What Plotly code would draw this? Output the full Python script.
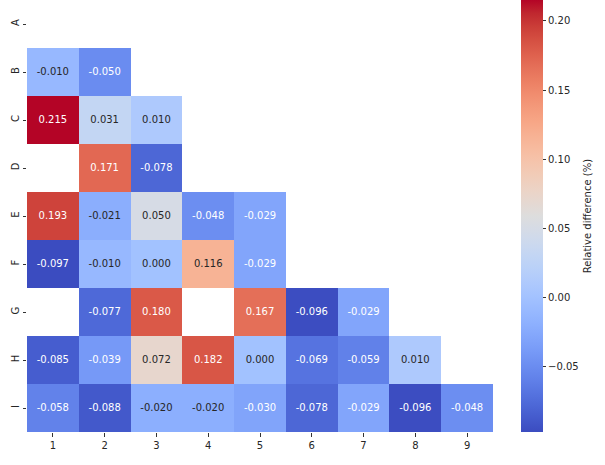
import plotly.graph_objects as go

# Row / column labels of the lower-triangular difference matrix
row_labels = ["A", "B", "C", "D", "E", "F", "G", "H", "I"]
col_labels = ["1", "2", "3", "4", "5", "6", "7", "8", "9"]

# Relative difference values (None = no data)
row_A = [None, None, None, None, None, None, None, None, None]
row_B = [-0.010, -0.050, None, None, None, None, None, None, None]
row_C = [0.215, 0.031, 0.010, None, None, None, None, None, None]
row_D = [None, 0.171, -0.078, None, None, None, None, None, None]
row_E = [0.193, -0.021, 0.050, -0.048, -0.029, None, None, None, None]
row_F = [-0.097, -0.010, 0.000, 0.116, -0.029, None, None, None, None]
row_G = [None, -0.077, 0.180, None, 0.167, -0.096, -0.029, None, None]
row_H = [-0.085, -0.039, 0.072, 0.182, 0.000, -0.069, -0.059, 0.010, None]
row_I = [-0.058, -0.088, -0.020, -0.020, -0.030, -0.078, -0.029, -0.096, -0.048]

z = [row_A, row_B, row_C, row_D, row_E, row_F, row_G, row_H, row_I]

# coolwarm diverging colormap (Moreland), 33 samples
coolwarm_rgb = [
    (59, 76, 192), (68, 90, 204), (77, 104, 215), (87, 117, 225),
    (98, 130, 234), (108, 142, 241), (119, 154, 247), (130, 165, 251),
    (141, 176, 254), (152, 185, 255), (163, 194, 255), (174, 201, 253),
    (184, 208, 249), (194, 213, 244), (204, 217, 238), (213, 219, 230),
    (221, 221, 221), (229, 216, 209), (236, 211, 197), (241, 204, 184),
    (245, 196, 172), (247, 187, 159), (247, 177, 147), (247, 166, 134),
    (244, 154, 123), (241, 141, 111), (236, 127, 99), (229, 112, 89),
    (222, 96, 77), (213, 80, 66), (203, 62, 56), (192, 40, 47), (180, 4, 38),
]
n = len(coolwarm_rgb) - 1
colorscale = [[i / n, "rgb(%d,%d,%d)" % c] for i, c in enumerate(coolwarm_rgb)]

vals = [v for r in z for v in r if v is not None]
zmin, zmax = min(vals), max(vals)


def cmap(frac):
    frac = min(max(frac, 0.0), 1.0) * n
    i = min(int(frac), n - 1)
    t = frac - i
    a, b = coolwarm_rgb[i], coolwarm_rgb[i + 1]
    return [(a[k] + (b[k] - a[k]) * t) / 255 for k in range(3)]


def luminance(rgb):
    lin = [c / 12.92 if c <= 0.03928 else ((c + 0.055) / 1.055) ** 2.4 for c in rgb]
    return 0.2126 * lin[0] + 0.7152 * lin[1] + 0.0722 * lin[2]


# Cell annotations: dark text on light cells, white on dark cells
tx, ty, tt, tc = [], [], [], []
for r, row in zip(row_labels, z):
    for c, v in zip(col_labels, row):
        if v is None:
            continue
        tx.append(c)
        ty.append(r)
        tt.append("%.3f" % v)
        lum = luminance(cmap((v - zmin) / (zmax - zmin)))
        tc.append("#262626" if lum > 0.408 else "white")

fig = go.Figure()
fig.add_trace(go.Heatmap(
    z=z, x=col_labels, y=row_labels,
    colorscale=colorscale, zmin=zmin, zmax=zmax,
    hoverongaps=False,
    colorbar=dict(
        x=1.06, xanchor="left", xpad=0,
        y=0.5, yanchor="middle", len=1.0, lenmode="fraction", ypad=0,
        thickness=22, outlinewidth=0,
        tick0=0, dtick=0.05, tickformat=".2f",
        ticks="outside", ticklen=3.5, tickwidth=1, tickcolor="#333",
        tickfont=dict(family="DejaVu Sans", size=10, color="#262626"),
    ),
))
fig.add_trace(go.Scatter(
    x=tx, y=ty, mode="text", text=tt,
    textfont=dict(family="DejaVu Sans", size=10, color=tc),
    hoverinfo="skip", showlegend=False,
))

# Colour bar label
fig.add_annotation(
    text="Relative difference (%)", textangle=-90,
    xref="paper", yref="paper", x=1.202, y=0.5,
    xanchor="center", yanchor="middle", showarrow=False,
    font=dict(family="DejaVu Sans", size=10, color="#262626"),
)

fig.update_xaxes(
    type="category", categoryorder="array", categoryarray=col_labels,
    showgrid=False, zeroline=False, showline=False,
    ticks="outside", ticklen=3.5, tickwidth=1, tickcolor="#333",
    tickfont=dict(family="DejaVu Sans", size=10, color="#262626"),
    range=[-0.5, 8.5],
)
fig.update_yaxes(
    type="category", categoryorder="array", categoryarray=row_labels,
    showgrid=False, zeroline=False, showline=False,
    ticks="outside", ticklen=3.5, tickwidth=1, tickcolor="#333",
    tickangle=-90,
    tickfont=dict(family="DejaVu Sans", size=10, color="#262626"),
    range=[8.5, -0.5],
)
fig.update_layout(
    width=605, height=465,
    margin=dict(l=27, r=112, t=0, b=33),
    paper_bgcolor="white", plot_bgcolor="white",
    showlegend=False,
)

fig.write_html("out.html")
